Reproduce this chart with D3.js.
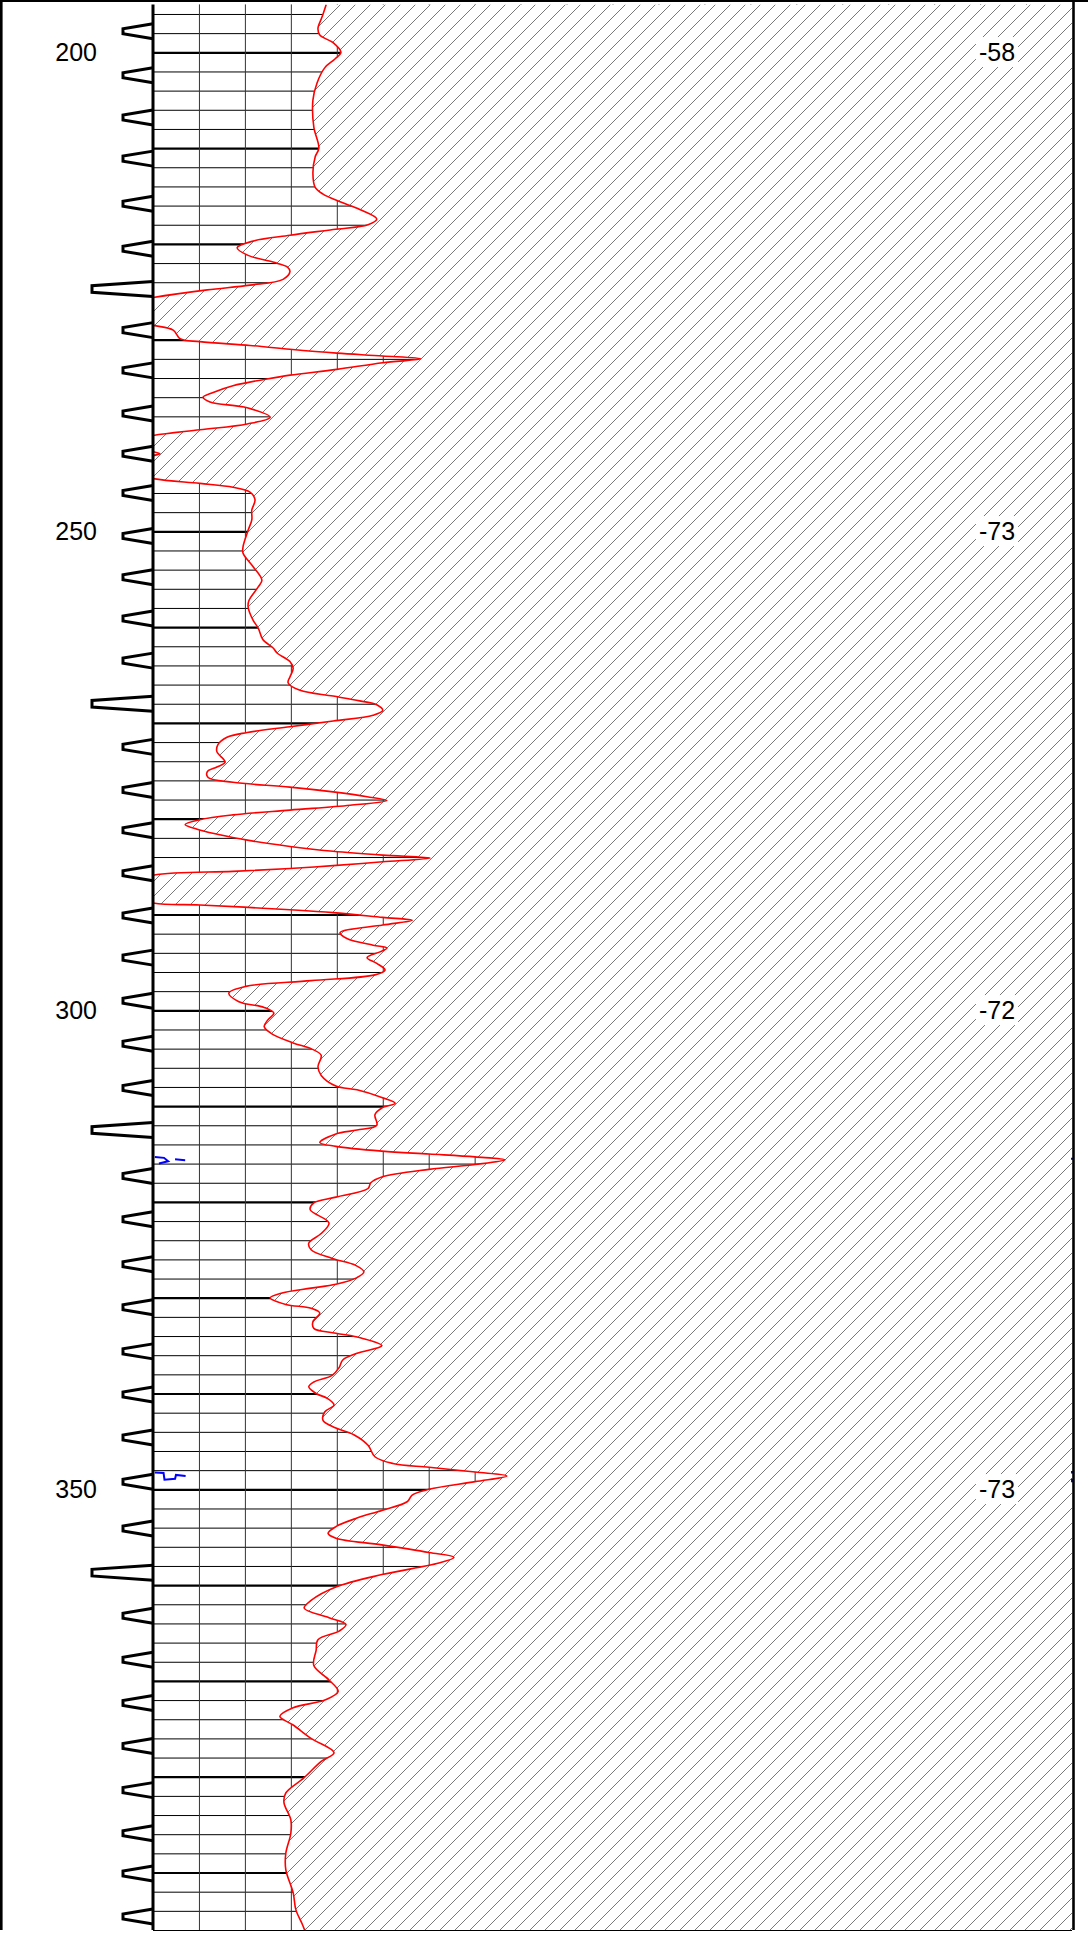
<!DOCTYPE html>
<html>
<head>
<meta charset="utf-8">
<script src="https://cdn.jsdelivr.net/npm/d3@7"></script>
<style>
  body { margin: 0; background: #fff; }
  svg { display: block; }
  text { font-family: "Liberation Sans", Arial, sans-serif; }
</style>
</head>
<body>
<div id="log"></div>
<script>
// depth range of the track and the value range (grid divisions)
var depthRange = [195, 396];
var valueRange = [0, 20];

// depth labels on the left, readings on the right
var depthLabels = [200, 250, 300, 350];
var rightLabels = ["-58", "-73", "-72", "-73"];

// depths of the triangle markers left of the depth line
var tickDepths = [197.8, 202.4, 206.8, 211.1, 215.8, 220.5, 224.7, 229.0, 233.2, 237.7,
  241.9, 246.0, 250.5, 254.8, 259.1, 263.5, 268.0, 272.5, 277.0, 281.2, 285.7, 290.1,
  294.5, 299.0, 303.5, 308.1, 312.5, 317.3, 321.8, 326.5, 331.0, 335.6, 340.1, 344.6,
  349.2, 354.1, 358.7, 363.2, 367.8, 372.3, 376.8, 381.4, 385.9, 390.1, 394.6];
var longTickDepths = [224.7, 268.0, 312.5, 358.7];

// red curve: [depth, value]
var redCurve = [
  [195.0,3.77],[196.3,3.68],[197.5,3.59],[198.2,3.63],[199.0,3.92],[200.0,4.09],[200.7,3.96],
  [201.6,3.74],[203.2,3.57],[205.0,3.48],[207.8,3.50],[210.0,3.61],[210.9,3.53],[212.6,3.48],
  [214.1,3.53],[214.8,3.70],[215.6,4.07],[216.4,4.50],[217.4,4.87],[218.0,4.68],[218.5,3.92],
  [219.1,2.98],[219.7,2.18],[220.4,1.83],[221.2,2.07],[221.9,2.61],[222.4,2.92],[222.9,2.98],
  [223.7,2.83],[224.3,2.11],[224.8,1.18],[225.6,0],[226.5,-1.0],[227.6,-1.0],[228.5,0],
  [229.0,0.44],[229.9,0.59],[230.2,1.02],[230.6,2.11],[231.0,2.98],[231.4,4.0],[231.7,5.0],
  [232.0,5.83],[232.4,5.0],[233.1,4.0],[233.7,2.98],[234.1,2.48],[234.8,1.74],[235.5,1.31],
  [236.0,1.09],[236.5,1.24],[237.1,2.05],[238.1,2.55],[238.8,2.05],[239.4,1.02],[240.0,0],
  [240.8,-0.8],[241.7,0],[241.9,0.15],[242.1,0],[243.3,-1.0],[244.5,0],[245.0,1.02],
  [245.4,1.74],[245.9,2.11],[246.7,2.22],[247.8,2.15],[248.8,2.15],[249.9,2.07],[251.6,1.96],
  [252.3,1.96],[253.7,2.18],[255.1,2.37],[255.8,2.29],[257.2,2.09],[257.9,2.07],[259.3,2.18],
  [260.1,2.29],[261.3,2.39],[262.2,2.62],[262.7,2.70],[263.6,2.98],[264.3,3.05],[265.2,2.98],
  [265.8,2.94],[266.6,3.20],[267.2,3.92],[267.7,4.50],[268.1,4.87],[268.7,5.0],[269.2,4.79],
  [269.8,3.92],[270.4,2.98],[271.0,2.05],[271.5,1.61],[272.3,1.41],[273.0,1.39],[274.1,1.57],
  [274.6,1.39],[275.1,1.18],[275.7,1.20],[276.2,1.74],[276.7,2.98],[277.2,3.92],[277.7,4.66],
  [278.1,5.09],[278.6,4.29],[279.1,2.98],[279.6,1.74],[280.1,1.02],[280.6,0.70],[281.1,0.96],
  [282.1,1.89],[282.9,2.98],[283.4,3.92],[283.8,5.0],[284.1,6.03],[284.5,5.0],[284.9,3.92],
  [285.2,2.98],[285.5,1.74],[285.9,0],[287.3,-1.0],[288.8,0],[289.0,1.02],[289.5,2.98],
  [289.8,3.92],[290.3,5.0],[290.6,5.64],[291.1,5.0],[291.9,4.07],[292.5,4.22],[293.2,4.79],
  [293.5,5.09],[293.9,4.94],[294.5,4.66],[295.1,4.87],[295.8,5.05],[296.3,4.83],[296.9,3.44],
  [297.5,2.02],[298.2,1.65],[299.1,1.87],[299.7,2.42],[300.3,2.63],[301.0,2.50],[301.7,2.42],
  [302.4,2.57],[303.4,3.05],[304.0,3.44],[304.7,3.66],[305.9,3.59],[306.8,3.66],[307.9,3.98],
  [308.3,4.44],[309.1,4.98],[309.7,5.27],[310.2,4.98],[310.9,4.83],[312.0,4.87],[312.5,4.44],
  [312.9,3.98],[313.8,3.63],[314.2,3.98],[314.7,4.98],[315.0,6.01],[315.3,7.01],[315.6,7.66],
  [316.1,7.01],[316.6,6.01],[317.4,4.98],[318.0,4.74],[318.6,4.68],[319.5,3.98],[320.1,3.50],
  [320.8,3.42],[322.2,3.83],[323.3,3.66],[324.3,3.39],[325.0,3.44],[325.9,3.90],[326.6,4.40],
  [327.3,4.59],[327.9,4.44],[328.6,3.98],[329.0,3.44],[329.5,2.81],[330.0,2.55],[330.7,2.89],
  [331.1,3.44],[331.6,3.63],[332.5,3.48],[333.2,3.50],[333.7,3.98],[334.2,4.53],[335.0,4.98],
  [335.8,4.44],[336.5,4.13],[337.3,4.05],[338.1,3.90],[338.8,3.50],[339.3,3.39],[340.0,3.55],
  [340.5,3.79],[341.2,3.94],[341.9,3.74],[342.8,3.70],[343.6,3.98],[344.3,4.37],[345.4,4.68],
  [346.6,4.83],[347.3,5.22],[347.7,6.01],[348.2,7.01],[348.6,7.70],[349.2,7.01],[350.0,6.01],
  [350.6,5.64],[351.3,5.53],[352.2,4.98],[353.0,4.44],[353.9,3.98],[354.6,3.81],[355.1,3.98],
  [355.8,4.98],[356.6,6.01],[357.1,6.55],[357.7,6.22],[358.9,4.98],[360.2,3.98],[361.6,3.44],
  [362.4,3.29],[363.4,3.83],[364.1,4.20],[364.8,4.05],[365.7,3.59],[366.8,3.55],[368.4,3.50],
  [369.9,3.83],[371.1,4.03],[372.0,3.74],[372.8,3.05],[373.7,2.76],[374.6,3.05],[376.0,3.44],
  [377.5,3.94],[378.4,3.66],[380.1,3.29],[381.7,2.89],[382.7,2.85],[384.5,3.0],[385.9,3.0],
  [388.0,2.89],[389.7,2.89],[392.1,3.05],[393.9,3.11],[395.3,3.24],[396.0,3.3]
];

// blue curve: only a few short pieces fall inside the track
var blueCurve = [
  [[315.3,0.04],[315.4,0.24],[315.75,0.33],[316.0,0.13]],
  [[315.55,0.48],[315.65,0.70]],
  [[348.25,0.04],[348.3,0.23],[349.0,0.25],[348.9,0.48],[348.5,0.5],[348.6,0.71]],
  [[315.4,20],[315.6,20]],
  [[348.1,20],[348.35,20]],
  [[348.9,20],[349.25,20]]
];

var width = 1088, height = 1933;
var track = {left: 153, right: 1072, top: 4.4, bottom: 1930};

var svg = d3.select("#log")
  .append("svg")
    .attr("width", width)
    .attr("height", height);

var y = d3.scaleLinear().domain(depthRange).range([track.top, track.bottom]);
var x = d3.scaleLinear().domain(valueRange).range([track.left, track.right]);

var defs = svg.append("defs");
defs.append("clipPath").attr("id", "trackClip")
  .append("rect")
    .attr("x", track.left).attr("y", track.top)
    .attr("width", track.right - track.left)
    .attr("height", track.bottom - track.top);

// diagonal hatch for the shaded side of the curve
var hatch = defs.append("pattern")
  .attr("id", "hatch")
  .attr("patternUnits", "userSpaceOnUse")
  .attr("width", 15).attr("height", 15);
hatch.append("rect").attr("width", 15).attr("height", 15).attr("fill", "#fff");
hatch.append("path")
  .attr("d", "M0,15L15,0M-4,4L4,-4M11,19L19,11")
  .attr("stroke", "#6a6a6a")
  .attr("stroke-width", 0.9);

// horizontal grid every 2 units, heavier every 10
var gridDepths = d3.range(196, 397, 2);
var hGrid = svg.append("g")
  .attr("transform", "translate(" + track.left + ",0)")
  .call(d3.axisRight(y).tickValues(gridDepths).tickSize(track.right - track.left).tickFormat(""));
hGrid.select(".domain").remove();
hGrid.selectAll(".tick line")
  .attr("stroke", "#000")
  .attr("stroke-width", d => d % 10 === 0 ? 2.2 : 1);

// vertical grid every division
var vGrid = svg.append("g")
  .attr("transform", "translate(0," + track.top + ")")
  .call(d3.axisBottom(x).tickValues(d3.range(1, 20)).tickSize(track.bottom - track.top).tickFormat(""));
vGrid.select(".domain").remove();
vGrid.selectAll(".tick line").attr("stroke", "#333").attr("stroke-width", 1);

// hatched area right of the curve
var plot = svg.append("g").attr("clip-path", "url(#trackClip)");
plot.append("path")
  .datum(redCurve)
  .attr("fill", "url(#hatch)")
  .attr("d", d3.area()
    .curve(d3.curveCatmullRom)
    .y(d => y(d[0]))
    .x0(d => x(d[1]))
    .x1(x(valueRange[1]) + 5));

plot.append("path")
  .datum(redCurve)
  .attr("fill", "none")
  .attr("stroke", "#ff0000")
  .attr("stroke-width", 1.6)
  .attr("d", d3.line()
    .curve(d3.curveCatmullRom)
    .x(d => x(d[1]))
    .y(d => y(d[0])));

// depth line and depth labels
var depthAxis = svg.append("g")
  .attr("transform", "translate(" + track.left + ",0)")
  .call(d3.axisLeft(y).tickValues(depthLabels).tickSize(0).tickPadding(56).tickFormat(d3.format("d")));
depthAxis.select(".domain").remove();
depthAxis.selectAll("text")
  .attr("fill", "#000")
  .style("font-size", "25px")
  .style("font-family", "'Liberation Sans', Arial, sans-serif");

svg.append("line")
  .attr("x1", track.left).attr("x2", track.left)
  .attr("y1", track.top).attr("y2", track.bottom)
  .attr("stroke", "#000").attr("stroke-width", 3);

// triangle markers
svg.append("g")
  .selectAll("path")
  .data(tickDepths)
  .join("path")
    .attr("fill", "none")
    .attr("stroke", "#000")
    .attr("stroke-width", 3)
    .attr("stroke-linejoin", "miter")
    .attr("d", d => {
      var long = longTickDepths.indexOf(d) >= 0;
      var tip = long ? 92 : 123, h = long ? 3.3 : 2.5;
      var yy = y(d);
      return "M" + track.left + "," + (yy - 7.5) + "L" + tip + "," + (yy - h) +
        "L" + tip + "," + (yy + h) + "L" + track.left + "," + (yy + 7.5);
    });

// readings on the right with white backing
var rl = svg.append("g").selectAll("g")
  .data(depthLabels)
  .join("g");
rl.append("rect").attr("fill", "#fff");
rl.append("text")
  .attr("x", 997)
  .attr("y", d => y(d))
  .attr("dy", "0.35em")
  .attr("text-anchor", "middle")
  .style("font-size", "25px")
  .text((d, i) => rightLabels[i]);
rl.each(function() {
  var b = d3.select(this).select("text").node().getBBox();
  d3.select(this).select("rect")
    .attr("x", b.x - 3).attr("y", b.y - 1)
    .attr("width", b.width + 6).attr("height", b.height + 2);
});

// blue curve pieces
svg.append("g")
  .selectAll("path")
  .data(blueCurve)
  .join("path")
    .attr("fill", "none")
    .attr("stroke", "#0000ff")
    .attr("stroke-width", 2)
    .attr("d", d3.line().x(d => x(d[1])).y(d => y(d[0])));

// frame
svg.append("line").attr("x1", 0).attr("x2", width).attr("y1", 1).attr("y2", 1)
  .attr("stroke", "#000").attr("stroke-width", 2.2);
svg.append("line").attr("x1", 1.3).attr("x2", 1.3).attr("y1", 0).attr("y2", track.bottom)
  .attr("stroke", "#000").attr("stroke-width", 2.6);
svg.append("line").attr("x1", track.right + 1.5).attr("x2", track.right + 1.5).attr("y1", 0).attr("y2", track.bottom)
  .attr("stroke", "#000").attr("stroke-width", 2.6);
</script>
</body>
</html>
